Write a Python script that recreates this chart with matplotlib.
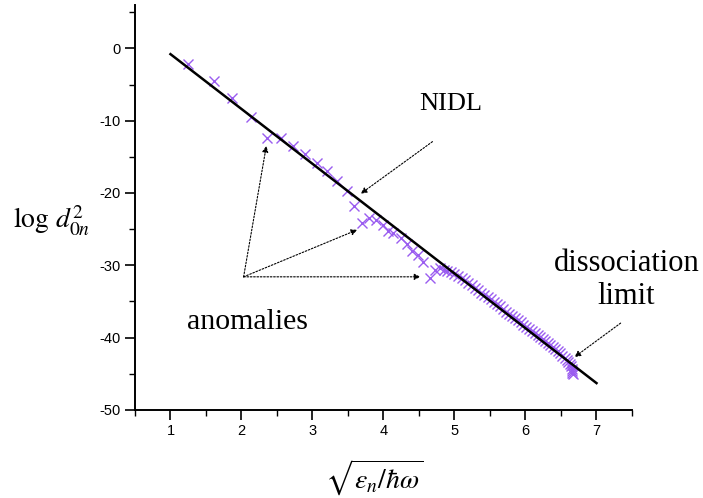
import matplotlib

matplotlib.use("Agg")
import matplotlib.pyplot as plt
from matplotlib.ticker import MultipleLocator

plt.rcParams["mathtext.fontset"] = "stix"
plt.rcParams["axes.unicode_minus"] = False

# computed levels (crosses)
x_pts = [
    1.24, 1.61, 1.87, 2.13, 2.36, 2.55, 2.72, 2.90, 3.07, 3.21, 3.35, 3.49,
    3.58, 3.70, 3.79, 3.89, 3.99, 4.06, 4.14, 4.24, 4.33, 4.40, 4.49, 4.56,
    4.66, 4.73, 4.80, 4.85, 4.90, 4.95, 5.00, 5.05, 5.10, 5.15, 5.19, 5.24,
    5.29, 5.33, 5.38, 5.42, 5.47, 5.51, 5.56, 5.60, 5.64, 5.68, 5.73, 5.77,
    5.81, 5.85, 5.89, 5.93, 5.97, 6.01, 6.05, 6.09, 6.13, 6.17, 6.20, 6.24,
    6.28, 6.32, 6.35, 6.39, 6.42, 6.46, 6.49, 6.52, 6.55, 6.58, 6.60, 6.62,
    6.64, 6.65, 6.66, 6.66, 6.67,
]
y_pts = [
    -2.1, -4.5, -6.9, -9.5, -12.4, -12.4, -13.5, -14.6, -15.8, -16.9, -18.3, -19.7,
    -21.8, -24.1, -23.4, -23.7, -24.5, -25.2, -25.5, -26.2, -27.0, -28.0, -28.6, -29.6,
    -31.8, -30.7, -30.4, -30.6, -30.8, -31.0, -31.2, -31.5, -31.8, -32.1, -32.4, -32.8,
    -33.1, -33.4, -33.8, -34.1, -34.4, -34.7, -35.1, -35.4, -35.7, -36.0, -36.4, -36.7,
    -37.0, -37.3, -37.6, -37.9, -38.2, -38.5, -38.8, -39.1, -39.4, -39.7, -39.9, -40.2,
    -40.5, -40.8, -41.0, -41.3, -41.6, -41.9, -42.2, -42.5, -42.8, -43.1, -43.4, -43.7,
    -44.0, -44.3, -44.6, -44.9, -45.1,
]

# NIDL straight line
x_line = [1.0, 7.0]
y_line = [-0.8, -46.3]

fig = plt.figure(figsize=(7.03, 4.98), dpi=100)
ax = fig.add_axes([0.192, 0.177, 0.707, 0.813])

ax.plot(x_line, y_line, color="black", lw=1.8, zorder=3)
ax.plot(x_pts, y_pts, ls="none", marker="x", ms=7, mew=1.0,
        color="#9a5cf0", zorder=2)

ax.set_xlim(0.5, 7.5)
ax.set_ylim(-50, 6)
ax.xaxis.set_major_locator(MultipleLocator(1))
ax.xaxis.set_minor_locator(MultipleLocator(0.5))
ax.yaxis.set_major_locator(MultipleLocator(10))
ax.yaxis.set_minor_locator(MultipleLocator(5))
ax.set_xticks([1, 2, 3, 4, 5, 6, 7])
for s in ("top", "right"):
    ax.spines[s].set_visible(False)
for s in ("left", "bottom"):
    ax.spines[s].set_linewidth(1.4)
ax.tick_params(which="major", direction="out", length=7, width=1.2,
               labelsize=10.5, colors="black")
ax.tick_params(which="minor", direction="out", length=4, width=1.0)
for lab in ax.get_xticklabels() + ax.get_yticklabels():
    lab.set_fontfamily("Liberation Sans")

serif = "Liberation Serif"
ax.text(4.94, -7.7, "NIDL", fontsize=19, family=serif, ha="center", va="center")
ax.text(2.08, -37.9, "anomalies", fontsize=21.5, family=serif, ha="center", va="center")
ax.text(7.42, -32.0, "dissociation\nlimit", fontsize=22, family=serif,
        ha="center", va="center", linespacing=1.2)

arrow = dict(arrowstyle="-|>", linestyle=(0, (1.5, 1.5)), lw=0.8, color="black",
             mutation_scale=9, shrinkA=0, shrinkB=0)
ax.annotate("", xy=(3.68, -20.1), xytext=(4.69, -12.9), arrowprops=arrow)
origin = (2.03, -31.6)
ax.annotate("", xy=(2.35, -13.5), xytext=origin, arrowprops=arrow)
ax.annotate("", xy=(3.63, -25.1), xytext=origin, arrowprops=arrow)
ax.annotate("", xy=(4.52, -31.6), xytext=origin, arrowprops=arrow)
ax.annotate("", xy=(6.69, -42.7), xytext=(7.34, -38.0), arrowprops=arrow)

fig.text(0.128, 0.54, r"$\log\, d_{0n}^{2}$", fontsize=20, ha="right", va="baseline")
fig.text(0.533, 0.04, r"$\sqrt{\varepsilon_n/\hbar\omega}$", fontsize=20,
         ha="center", va="center")

fig.savefig("out.png", dpi=100)
